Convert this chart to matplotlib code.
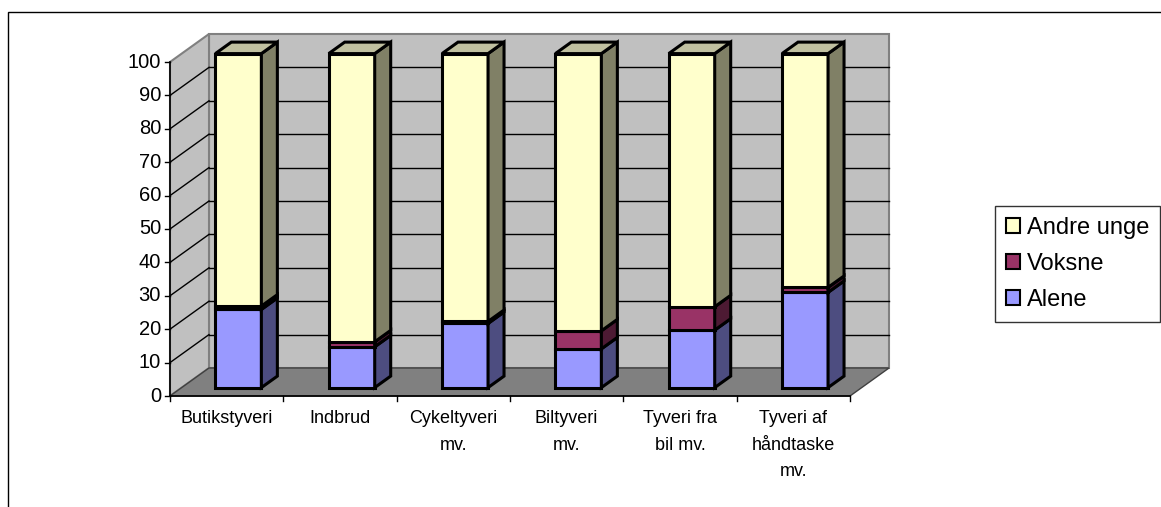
import numpy as np
import matplotlib.pyplot as plt
from matplotlib.patches import Polygon, Patch, Rectangle

plt.rcParams['font.family'] = ['Liberation Sans', 'DejaVu Sans']

categories = ['Butikstyveri', 'Indbrud', 'Cykeltyveri\nmv.', 'Biltyveri\nmv.',
              'Tyveri fra\nbil mv.', 'Tyveri af\nhåndtaske\nmv.']
alene = np.array([23.4, 12.2, 19.2, 11.6, 17.2, 28.5])
voksne = np.array([1.0, 1.5, 0.6, 5.4, 7.0, 1.5])
andre_unge = 100 - alene - voksne
yticks = np.arange(0, 101, 10)

series = [('Alene', alene, '#9999ff', '#4d4d80'),
          ('Voksne', voksne, '#993366', '#4d1a33'),
          ('Andre unge', andre_unge, '#ffffcc', '#808066')]
top_col = '#c0c0a0'

W, H = 1161, 507
fig = plt.figure(figsize=(W / 100, H / 100), dpi=100)
ax = fig.add_axes([0, 0, 1, 1])

# pixel geometry of the front plane: x 0..6 -> px 170..850, y 0..100 -> px 396..62
px_x = 680 / 6
px_y = 334 / 100
ax.set_xlim(-170 / px_x, (W - 170) / px_x)
ax.set_ylim(-(H - 396) / px_y, 396 / px_y)
ax.axis('off')

DX = 39 / px_x    # depth offset in x units
DY = 28 / px_y    # depth offset in y units


def proj(x, y, z):
    return (x + z * DX, y + z * DY)


def poly(pts, fc, ec, lw=1.0, z=1):
    ax.add_patch(Polygon([proj(*p) for p in pts], closed=True, facecolor=fc,
                         edgecolor=ec, linewidth=lw, zorder=z, joinstyle='miter'))


n = len(categories)
# walls and floor
poly([(0, 0, 1), (n, 0, 1), (n, 100, 1), (0, 100, 1)], '#c0c0c0', '#808080', 1.5)
poly([(0, 0, 0), (0, 0, 1), (0, 100, 1), (0, 100, 0)], '#c0c0c0', '#808080', 1.5)
poly([(0, 0, 0), (n, 0, 0), (n, 0, 1), (0, 0, 1)], '#808080', '#404040', 1.0)

for v in yticks[1:-1]:
    a, b = proj(0, v, 1), proj(n, v, 1)
    ax.plot([a[0], b[0]], [a[1], b[1]], color='black', lw=1, zorder=2)
    a, b = proj(0, v, 0), proj(0, v, 1)
    ax.plot([a[0], b[0]], [a[1], b[1]], color='black', lw=1, zorder=2)

# axes lines, ticks, labels
ax.plot([0, 0], [0, 100], color='black', lw=1.2, zorder=3)
ax.plot([0, n], [0, 0], color='black', lw=1.2, zorder=3)
for v in yticks:
    ax.plot([-5 / px_x, 0], [v, v], color='black', lw=1, zorder=3)
    ax.text(-9 / px_x, v, str(v), ha='right', va='center', fontsize=14.5)
for i in range(n + 1):
    ax.plot([i, i], [0, -5 / px_y], color='black', lw=1, zorder=3)
for i, lab in enumerate(categories):
    ax.text(i + 0.5, -14 / px_y, lab, ha='center', va='top', fontsize=13,
            linespacing=1.75)

# 3D stacked bars
hw = 0.203
z0, z1 = 0.3, 0.71
for i in range(n):
    x0, x1 = i + 0.5 - hw, i + 0.5 + hw
    bottom = 0
    for k, (name, vals, fc, sc) in enumerate(series):
        t = bottom + vals[i]
        poly([(x0, bottom, z0), (x1, bottom, z0), (x1, t, z0), (x0, t, z0)], fc, 'black', 2.2, 5)
        poly([(x1, bottom, z0), (x1, bottom, z1), (x1, t, z1), (x1, t, z0)], sc, 'black', 2.2, 5)
        if k == len(series) - 1:
            poly([(x0, t, z0), (x1, t, z0), (x1, t, z1), (x0, t, z1)], top_col, 'black', 2.2, 5)
        bottom = t

handles = [Patch(facecolor=fc, edgecolor='black', linewidth=1.5, label=name)
           for name, vals, fc, sc in series[::-1]]
leg = fig.legend(handles=handles, loc='upper left',
                 bbox_to_anchor=(995 / W, 1 - 206 / H), fontsize=17,
                 frameon=True, fancybox=False, edgecolor='black',
                 handlelength=0.6, handleheight=0.6, handletextpad=0.3,
                 labelspacing=0.6, borderpad=0.45, borderaxespad=0)
leg.get_frame().set_linewidth(1)

# outer chart frame
fig.patches.append(Rectangle((8 / W, -0.1), 1.2, 1 - 12 / H + 0.1,
                             transform=fig.transFigure, fill=False,
                             edgecolor='black', linewidth=1))

fig.savefig('out.png', dpi=100)
